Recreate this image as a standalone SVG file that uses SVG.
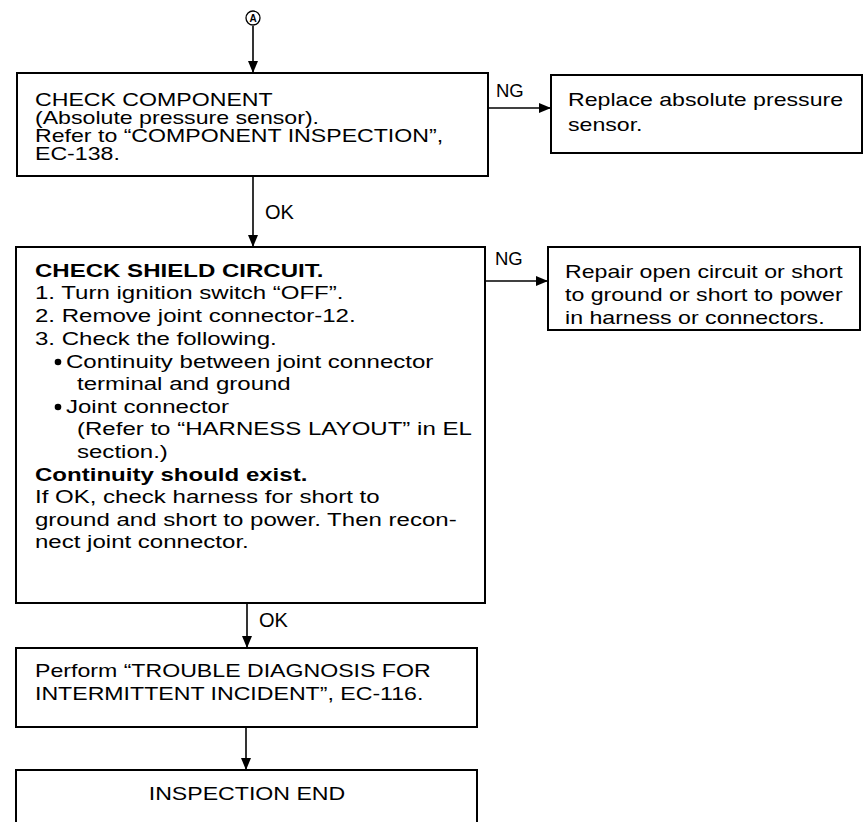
<svg xmlns="http://www.w3.org/2000/svg" width="864" height="822" viewBox="0 0 864 822">
<defs>
<marker id="ah" markerWidth="12" markerHeight="10" refX="12" refY="5" orient="auto" markerUnits="userSpaceOnUse">
<path d="M0,0 L12,5 L0,10 Z" fill="#000"/>
</marker>
<style>
.box{fill:#fff;stroke:#000;stroke-width:2}
.t{font-family:"Liberation Sans",Arial,sans-serif;font-size:18.5px;fill:#000}
.b{font-weight:bold}
.ln{stroke:#000;stroke-width:1.6;fill:none}
</style>
</defs>
<rect width="864" height="822" fill="#fff"/>
<g id="connectors">
<circle cx="253" cy="18" r="7" fill="none" stroke="#000" stroke-width="1.3"/>
<text x="253" y="22" text-anchor="middle" style="font-family:'Liberation Sans',Arial,sans-serif;font-size:10px;font-weight:bold">A</text>
<line class="ln" x1="253" y1="26" x2="253" y2="73" marker-end="url(#ah)"/>
<line class="ln" x1="488" y1="108" x2="551" y2="108" marker-end="url(#ah)"/>
<text class="t" x="496" y="97">NG</text>
<line class="ln" x1="253" y1="176" x2="253" y2="247" marker-end="url(#ah)"/>
<text class="t" x="265" y="219" style="font-size:20px">OK</text>
<line class="ln" x1="485" y1="281" x2="548" y2="281" marker-end="url(#ah)"/>
<text class="t" x="495" y="265">NG</text>
<line class="ln" x1="247" y1="603" x2="247" y2="648" marker-end="url(#ah)"/>
<text class="t" x="259" y="627" style="font-size:20px">OK</text>
<line class="ln" x1="246" y1="727" x2="246" y2="770" marker-end="url(#ah)"/>
</g>
<g id="n1">
<rect class="box" x="17" y="73" width="471" height="103"/>
<g transform="scale(1.25 1)">
<text class="t" x="28" y="106">CHECK COMPONENT</text>
<text class="t" x="28" y="124">(Absolute pressure sensor).</text>
<text class="t" x="28" y="142">Refer to “COMPONENT INSPECTION”,</text>
<text class="t" x="28" y="160">EC-138.</text>
</g>
</g>
<g id="n2">
<rect class="box" x="551" y="75" width="311" height="78"/>
<g transform="scale(1.25 1)">
<text class="t" x="454.4" y="106">Replace absolute pressure</text>
<text class="t" x="454.4" y="131">sensor.</text>
</g>
</g>
<g id="n3">
<rect class="box" x="16" y="247" width="469" height="356"/>
<circle cx="58" cy="362" r="3.3" fill="#000"/>
<circle cx="58" cy="407" r="3.3" fill="#000"/>
<g transform="scale(1.3 1)">
<text class="t b" x="26.92" y="277">CHECK SHIELD CIRCUIT.</text>
<text class="t" x="26.92" y="299">1. Turn ignition switch “OFF”.</text>
<text class="t" x="26.92" y="322">2. Remove joint connector-12.</text>
<text class="t" x="26.92" y="345">3. Check the following.</text>
<text class="t" x="50.77" y="368">Continuity between joint connector</text>
<text class="t" x="59.23" y="390">terminal and ground</text>
<text class="t" x="50.77" y="413">Joint connector</text>
<text class="t" x="59.23" y="435">(Refer to “HARNESS LAYOUT” in EL</text>
<text class="t" x="59.23" y="458">section.)</text>
<text class="t b" x="26.92" y="481">Continuity should exist.</text>
<text class="t" x="26.92" y="503">If OK, check harness for short to</text>
<text class="t" x="26.92" y="526">ground and short to power. Then recon-</text>
<text class="t" x="26.92" y="548">nect joint connector.</text>
</g>
</g>
<g id="n4">
<rect class="box" x="548" y="247" width="312" height="83"/>
<g transform="scale(1.25 1)">
<text class="t" x="452" y="278">Repair open circuit or short</text>
<text class="t" x="452" y="301">to ground or short to power</text>
<text class="t" x="452" y="324">in harness or connectors.</text>
</g>
</g>
<g id="n5">
<rect class="box" x="16" y="648" width="461" height="79"/>
<g transform="scale(1.25 1)">
<text class="t" x="28" y="677">Perform “TROUBLE DIAGNOSIS FOR</text>
<text class="t" x="28" y="700">INTERMITTENT INCIDENT”, EC-116.</text>
</g>
</g>
<g id="n6">
<rect class="box" x="16" y="770" width="461" height="60"/>
<g transform="scale(1.25 1)">
<text class="t" x="197.6" y="800" text-anchor="middle">INSPECTION END</text>
</g>
</g>
</svg>
